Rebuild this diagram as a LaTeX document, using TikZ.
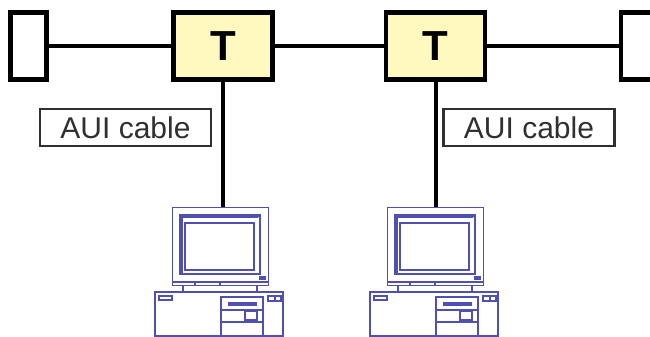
\documentclass[tikz,border=0pt]{standalone}
\usepackage{fontspec}
\setmainfont{Liberation Sans}
\begin{document}
\begin{tikzpicture}[x=1pt,y=-1pt,
  bus/.style={line width=4pt,draw=black},
  term/.style={draw=black,line width=4.2pt,fill=white,minimum width=36pt,minimum height=67pt,inner sep=0pt},
  tap/.style={draw=black,line width=4.2pt,fill=tapyellow,minimum width=99pt,minimum height=67pt,inner sep=0pt,
    font=\fontsize{42}{42}\selectfont\bfseries},
  cablelabel/.style={draw=labelgray,line width=2.2pt,fill=white,minimum width=171pt,minimum height=37pt,inner sep=0pt,
    text=labelgray,font=\fontsize{30}{30}\selectfont},
  pcline/.style={draw=pcblue,line width=1.2pt},
  pics/pc/.style={code={
    % monitor housing
    \node[pcline,minimum width=96pt,minimum height=78pt,inner sep=0pt,anchor=north west] (-mon) at (0,0) {};
    % bezel with a second inner edge
    \draw[pcline] (8,8) rectangle (88,67);
    \draw[pcline] (10,67) -- (10,10) -- (86,10);
    \draw[pcline] (86,10) -- (88,8);
    \draw[pcline] (8,67) -- (10,65);
    % screen
    \draw[pcline] (13,16) rectangle (82,63);
    % power light
    \draw[pcline,fill=pcblue] (88,70) rectangle (93,72);
    % bottom strip of the housing with ticks
    \draw[pcline] (0,75) -- (96,75);
    \draw[pcline] (23,75) -- (23,78);
    \draw[pcline] (48,75) -- (48,78);
    % stand
    \draw[pcline] (11,78) -- (11,85);
    \draw[pcline] (85,78) -- (85,85);
    % system unit
    \draw[pcline] (-17,85) rectangle (111,129);
    \draw[pcline] (-13,89) rectangle (0,93);
    \draw[pcline] (96,89) rectangle (109,94);
    \draw[pcline] (103,89) -- (103,94);
    % drive bay
    \draw[pcline] (49,90) rectangle (91,129);
    \draw[pcline,fill=pcblue] (57,96) rectangle (84,98);
    \draw[pcline] (49,103) -- (91,103);
    \draw[pcline] (49,115) -- (91,115);
    \draw[pcline] (73,104) rectangle (85,113);
  }}
]
\definecolor{tapyellow}{HTML}{FFF9BF}
\definecolor{labelgray}{HTML}{303030}
\definecolor{pcblue}{HTML}{5050B0}
\useasboundingbox (0,0) rectangle (650,337);
\clip (0,0) rectangle (650,337);

% terminators and transceiver taps
\node[term] (tl) at (28.5,46) {};
\node[tap] (t1) at (223,46) {T};
\node[tap] (t2) at (435.5,46) {T};
\node[term,anchor=west] (tr) at (619,46) {};

% coaxial bus
\draw[bus] (tl.east) -- (t1.west);
\draw[bus] (t1.east) -- (t2.west);
\draw[bus] (t2.east) -- (tr.west);

% stations
\pic (pc1) at (172,207) {pc};
\pic (pc2) at (387,207) {pc};

% drop cables
\draw[bus] (t1.south) -- (t1.south |- pc1-mon.north);
\draw[bus] (t2.south) -- (t2.south |- pc2-mon.north);

% cable labels
\node[cablelabel] (l1) at (125.5,127.5) {AUI cable};
\node[cablelabel] (l2) at (529,127.5) {AUI cable};
\end{tikzpicture}
\end{document}
